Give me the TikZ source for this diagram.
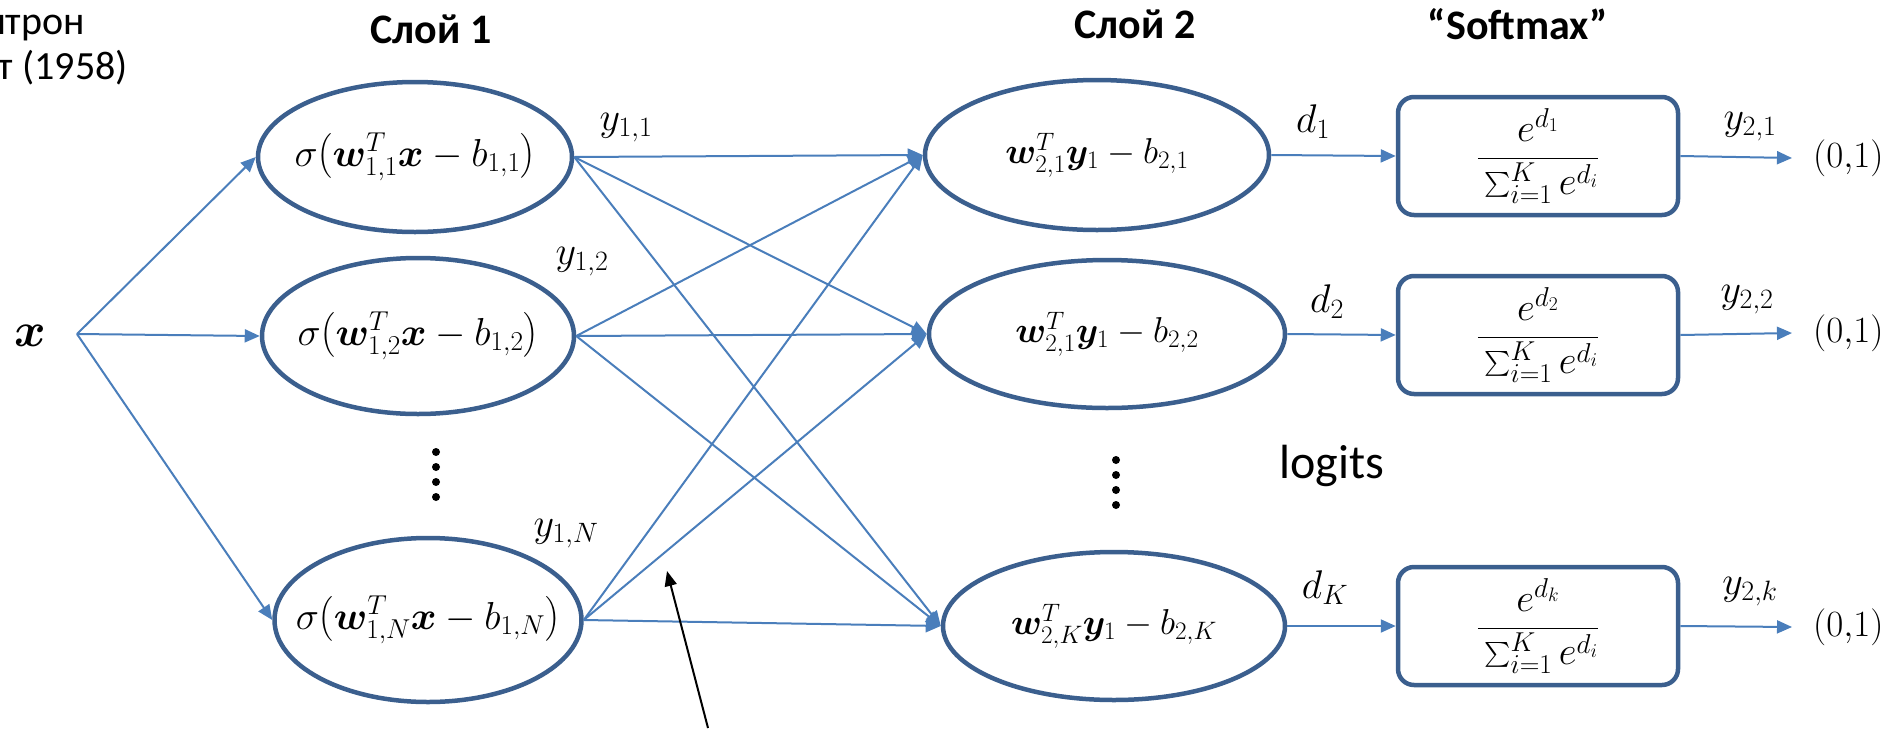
\documentclass[tikz,border=0pt]{standalone}
\usepackage{fix-cm}
\usepackage{amsmath,bm}
\usepackage{fontspec}
\setmainfont{Carlito}
\usetikzlibrary{shapes.geometric,arrows.meta}
\definecolor{edgec}{HTML}{3B5F8E}
\definecolor{arrc}{HTML}{4A7EBB}
\newcommand{\smfrac}[1]{$\dfrac{e^{#1}}{\rule{0pt}{0.8em}\sum_{i=1}^{K} e^{d_i}}$}
\begin{document}
\begin{tikzpicture}[x=1pt,y=-1pt,
  neuron/.style={ellipse,draw=edgec,line width=4.5pt,inner sep=0pt,fill=white},
  smbox/.style={rectangle,rounded corners=16pt,draw=edgec,line width=4.5pt,minimum width=280pt,minimum height=118pt,inner sep=0pt,font=\fontsize{39}{46}\selectfont},
  conn/.style={draw=arrc,line width=2pt,-{Triangle[length=15pt,width=13pt]}},
  mathone/.style={font=\fontsize{39}{46}\selectfont,inner sep=0pt},
  mathtwo/.style={font=\fontsize{36}{42}\selectfont,inner sep=0pt},
  mathl/.style={font=\fontsize{40}{46}\selectfont,inner sep=0pt},
  outl/.style={font=\fontsize{37}{44}\selectfont,inner sep=0pt},
  title/.style={font=\fontsize{42}{48}\selectfont\bfseries,inner sep=0pt},
  plain/.style={font=\fontsize{40}{48}\selectfont,inner sep=0pt},
  dotc/.style={circle,fill=black,minimum size=8pt,inner sep=0pt}
]
\useasboundingbox (0,0) rectangle (1904,737);

% top-left caption (cut off by the picture edge)
\node[plain,anchor=east] (cap1) at (85,25) {Перцептрон};
\node[plain,anchor=east] (cap2) at (128,68) {Розенблатт (1958)};

% titles
\node[title] (t1) at (431,29) {Слой 1};
\node[title] (t2) at (1135,24) {Слой 2};
\node[title] (t3) at (1518,24) {“Softmax”};

% input
\node[mathl,font=\fontsize{48}{54}\selectfont] (x) at (30,336) {$\bm{x}$};
\coordinate (xs) at (77,334);

% layer 1
\node[neuron,minimum width=314pt,minimum height=150pt,
  label={[mathone]center:{$\sigma\bigl(\bm{w}^T_{1,1}\bm{x}-b_{1,1}\bigr)$}}] (a1) at (415,157) {};
\node[neuron,minimum width=312pt,minimum height=156pt,
  label={[mathone]center:{$\sigma\bigl(\bm{w}^T_{1,2}\bm{x}-b_{1,2}\bigr)$}}] (a2) at (418,336) {};
\node[neuron,minimum width=307pt,minimum height=164pt,
  label={[mathone]center:{$\sigma\bigl(\bm{w}^T_{1,N}\bm{x}-b_{1,N}\bigr)$}}] (aN) at (428,620) {};

% layer 2
\node[neuron,minimum width=344pt,minimum height=150pt,
  label={[mathtwo]center:{$\bm{w}^T_{2,1}\bm{y}_1-b_{2,1}$}}] (b1) at (1097,155) {};
\node[neuron,minimum width=356pt,minimum height=148pt,
  label={[mathtwo]center:{$\bm{w}^T_{2,1}\bm{y}_1-b_{2,2}$}}] (b2) at (1107,334) {};
\node[neuron,minimum width=342pt,minimum height=148pt,
  label={[mathtwo]center:{$\bm{w}^T_{2,K}\bm{y}_1-b_{2,K}$}}] (bK) at (1114,626) {};

% softmax boxes
\node[smbox] (s1) at (1538,156) {\smfrac{d_1}};
\node[smbox] (s2) at (1538,335) {\smfrac{d_2}};
\node[smbox] (sK) at (1538,626) {\smfrac{d_k}};

% outputs
\node[outl,anchor=west] (o1) at (1813,158) {$(0{,}1)$};
\node[outl,anchor=west] (o2) at (1813,333) {$(0{,}1)$};
\node[outl,anchor=west] (oK) at (1813,627) {$(0{,}1)$};

% input arrows
\draw[conn] (xs) -- (a1.west);
\draw[conn] (xs) -- (a2.west);
\draw[conn] (xs) -- (aN.west);

% layer1 -> layer2
\foreach \s in {a1,a2,aN}{
  \foreach \t in {b1,b2,bK}{
    \draw[conn] (\s.east) -- (\t.west);
  }
}

% layer2 -> softmax
\draw[conn] (b1.east) -- (s1.west);
\draw[conn] (b2.east) -- (s2.west);
\draw[conn] (bK.east) -- (sK.west);

% softmax -> outputs
\draw[conn] (s1.east) -- ([xshift=-21pt]o1.west);
\draw[conn] (s2.east) -- ([xshift=-21pt]o2.west);
\draw[conn] (sK.east) -- ([xshift=-21pt]oK.west);

% labels
\node[mathl] (ly11) at (626,128) {$y_{1,1}$};
\node[mathl] (ly12) at (582,262) {$y_{1,2}$};
\node[mathl] (ly1N) at (566,534) {$y_{1,N}$};
\node[mathl] (ld1) at (1313,122) {$d_1$};
\node[mathl] (ld2) at (1327,302) {$d_2$};
\node[mathl] (ldK) at (1325,588) {$d_K$};
\node[mathl] (ly21) at (1750,127) {$y_{2,1}$};
\node[mathl] (ly22) at (1747,300) {$y_{2,2}$};
\node[mathl] (ly2k) at (1750,592) {$y_{2,k}$};

\node[plain,font=\fontsize{48}{56}\selectfont] (logits) at (1332,466) {logits};

% vertical dots
\node[dotc] (d11) at (436,452) {};
\node[dotc] (d12) at (436,467) {};
\node[dotc] (d13) at (436,482) {};
\node[dotc] (d14) at (436,497) {};
\node[dotc] (d21) at (1116,460) {};
\node[dotc] (d22) at (1116,475) {};
\node[dotc] (d23) at (1116,490) {};
\node[dotc] (d24) at (1116,505) {};

% black pointer arrow
\coordinate (pa) at (708,728);
\coordinate (pb) at (667,571);
\draw[line width=2pt,-{Triangle[length=15pt,width=12pt]}] (pa) -- (pb);
\end{tikzpicture}
\end{document}
